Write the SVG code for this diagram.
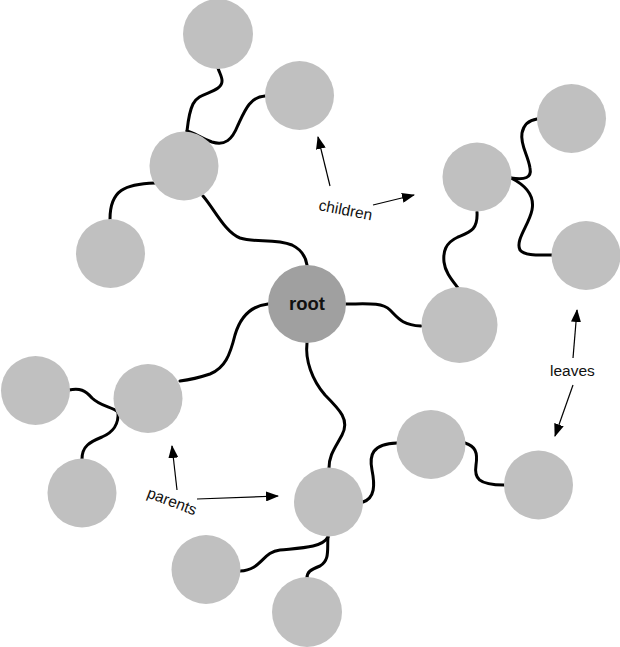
<svg xmlns="http://www.w3.org/2000/svg" width="620" height="647" viewBox="0 0 620 647">
<defs>
<marker id="ah" viewBox="0 0 13 10" refX="12" refY="5" markerWidth="13" markerHeight="10" markerUnits="userSpaceOnUse" orient="auto">
<path d="M0,0 L13,5 L0,10 Z" fill="#000"/>
</marker>
<style>
.n{fill:#c0c0c0}
.r{fill:#a0a0a0}
.e{fill:none;stroke:#000;stroke-width:3;stroke-linecap:round}
.a{fill:none;stroke:#000;stroke-width:1.2;marker-end:url(#ah)}
.t{font-family:"Liberation Sans",Arial,sans-serif;font-size:15.5px;fill:#111}
.rt{font-family:"Liberation Sans",Arial,sans-serif;font-size:18.5px;font-weight:bold;fill:#111}
</style>
</defs>
<rect width="620" height="647" fill="#fff"/>
<g id="connectors">
<path class="e" d="M218,68 C220,75 226,82 218,88 C210,94 198,94 193,104 C189,112 188,122 187,131"/>
<path class="e" d="M265,96 C250,97 245,110 238,125 C232,140 225,146 212,142 C200,138 195,133 187,131"/>
<path class="e" d="M155,183 C125,184 110,190 110,219"/>
<path class="e" d="M203,196 C215,210 225,232 240,238 C255,243 275,238 292,245 C302,250 306,258 307,265"/>
<path class="e" d="M346,304 C365,304 382,302 390,310 C398,318 402,325 421,326"/>
<path class="e" d="M477,212 C478,230 470,232 458,237 C445,243 443,252 444,262 C445,272 452,280 458,288"/>
<path class="e" d="M511,178 C525,180 532,178 530,168 C528,155 520,145 522,133 C524,123 530,120 537,119"/>
<path class="e" d="M511,178 C525,185 535,195 532,210 C529,225 515,240 520,250 C525,256 538,255 552,255"/>
<path class="e" d="M268,304 C250,306 240,318 235,335 C230,355 225,368 210,374 C198,378 188,380 180,381"/>
<path class="e" d="M69,390 C80,388 85,390 92,398 C100,406 112,407 118,412"/>
<path class="e" d="M118,412 C119,425 113,432 102,437 C90,442 82,446 82,459"/>
<path class="e" d="M307,343 C305,360 312,380 325,395 C340,410 350,420 342,435 C335,448 329,455 329,468"/>
<path class="e" d="M363,502 C375,498 375,485 372,470 C369,455 372,444 397,443"/>
<path class="e" d="M465,443 C475,446 478,452 476,465 C474,478 478,485 504,485"/>
<path class="e" d="M328,537 C322,548 300,548 280,550 C262,552 262,570 240,571"/>
<path class="e" d="M328,537 C327,550 330,560 320,566 C310,570 307,572 307,578"/>
</g>
<g id="n-top"><circle class="n" cx="218" cy="34" r="35"/></g>
<g id="n-topright"><circle class="n" cx="299.5" cy="95.5" r="34.5"/></g>
<g id="n-upperparent"><circle class="n" cx="184" cy="166" r="34.5"/></g>
<g id="n-upperleft"><circle class="n" cx="110.5" cy="253.5" r="34.5"/></g>
<g id="n-root"><circle class="r" cx="307" cy="304" r="39"/><text class="rt" x="307" y="310" text-anchor="middle">root</text></g>
<g id="n-rightofroot"><circle class="n" cx="459.5" cy="325" r="38"/></g>
<g id="n-rightparent"><circle class="n" cx="477" cy="177" r="34.5"/></g>
<g id="n-rightleaf1"><circle class="n" cx="571.5" cy="118.5" r="34.5"/></g>
<g id="n-rightleaf2"><circle class="n" cx="586" cy="255.5" r="34.5"/></g>
<g id="n-leftparent"><circle class="n" cx="148" cy="398.5" r="34.5"/></g>
<g id="n-farleft"><circle class="n" cx="35.5" cy="390.5" r="34.5"/></g>
<g id="n-lowerleft"><circle class="n" cx="82" cy="493" r="34.5"/></g>
<g id="n-bottomparent"><circle class="n" cx="328.5" cy="502" r="34.5"/></g>
<g id="n-bottommid"><circle class="n" cx="431" cy="444.5" r="34.5"/></g>
<g id="n-bottomright"><circle class="n" cx="538.5" cy="485" r="34.5"/></g>
<g id="n-bottomleftleaf"><circle class="n" cx="206" cy="569.5" r="34.5"/></g>
<g id="n-bottomleaf"><circle class="n" cx="307" cy="612" r="35"/></g>
<g id="annotations">
<line class="a" x1="330" y1="186" x2="318" y2="137"/>
<line class="a" x1="373" y1="205" x2="414" y2="195"/>
<text class="t" transform="translate(318,210) rotate(11)">children</text>
<line class="a" x1="177" y1="490" x2="172" y2="446"/>
<line class="a" x1="197" y1="499" x2="278" y2="496"/>
<text class="t" transform="translate(146,497) rotate(21)">parents</text>
<line class="a" x1="573" y1="358" x2="577" y2="310"/>
<line class="a" x1="573" y1="385" x2="555" y2="436"/>
<text class="t" x="550" y="376">leaves</text>
</g>
</svg>
